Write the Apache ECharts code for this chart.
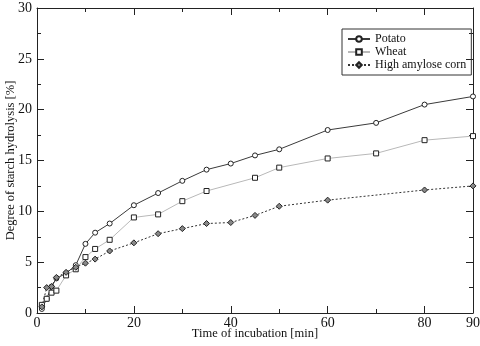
<!DOCTYPE html>
<html><head><meta charset="utf-8">
<script src="https://cdn.jsdelivr.net/npm/echarts@6/dist/echarts.min.js"></script>
<style>html,body{margin:0;padding:0;background:#fff}#c{width:480px;height:346px}</style>
</head><body><div id="c"></div>
<script>
const times = [1,2,3,4,6,8,10,12,15,20,25,30,35,40,45,50,60,70,80,90];
const potato = [0.4,1.4,2.6,3.4,3.9,4.7,6.8,7.9,8.8,10.6,11.8,13.0,14.1,14.7,15.5,16.1,18.0,18.7,20.5,21.3];
const wheat = [0.8,1.4,2.0,2.2,3.7,4.3,5.5,6.3,7.2,9.4,9.7,11.0,12.0,null,13.3,14.3,15.2,15.7,17.0,17.4];
const corn = [0.6,2.5,2.6,3.5,4.0,4.5,4.9,5.3,6.1,6.9,7.8,8.3,8.8,8.9,9.6,10.5,11.1,null,12.1,12.5];
const seriesNames = ['Potato','Wheat','High amylose corn'];
const xTitle = 'Time of incubation [min]';
const yTitle = 'Degree of starch hydrolysis [%]';

const pair = arr => times.map((t,i)=>[t,arr[i]]);
const font = 'Liberation Serif';
const axisBase = () => ({
  axisLine:{show:true,onZero:false,lineStyle:{color:'#222',width:1}},
  axisTick:{show:true,inside:true,length:7,lineStyle:{color:'#222'}},
  minorTick:{show:true,splitNumber:2,length:4,lineStyle:{color:'#222'}},
  splitLine:{show:false}
});
const chart = echarts.init(document.getElementById('c'));
chart.setOption({
  animation:false,
  textStyle:{fontFamily:font},
  grid:{left:37,right:7,top:8,bottom:33,outerBoundsMode:'none',containLabel:false},
  legend:{
    orient:'vertical',left:342,top:29,padding:[4,5,4,5],itemGap:1,
    itemWidth:22,itemHeight:7,borderColor:'#333',borderWidth:1,
    textStyle:{fontFamily:font,fontSize:12,color:'#111'},
    data:seriesNames
  },
  xAxis:[
    Object.assign(axisBase(),{type:'value',min:0,max:90,interval:20,position:'bottom',
      name:xTitle,nameLocation:'middle',nameGap:14,nameMoveOverlap:false,
      nameTextStyle:{fontFamily:font,fontSize:12.5,color:'#111',verticalAlign:'top'},
      axisLabel:{fontFamily:font,fontSize:14,color:'#111',margin:3}}),
    Object.assign(axisBase(),{type:'value',min:0,max:90,interval:20,position:'top',
      axisLabel:{show:false}})
  ],
  yAxis:[
    Object.assign(axisBase(),{type:'value',min:0,max:30,interval:5,position:'left',
      name:yTitle,nameLocation:'middle',nameGap:20,nameMoveOverlap:false,
      nameTextStyle:{fontFamily:font,fontSize:12.5,color:'#111'},
      axisLabel:{fontFamily:font,fontSize:14,color:'#111',margin:5}}),
    Object.assign(axisBase(),{type:'value',min:0,max:30,interval:5,position:'right',
      axisLabel:{show:false}})
  ],
  series:[
    {name:seriesNames[0],type:'line',data:pair(potato),symbol:'circle',symbolSize:5,
      lineStyle:{color:'#3a3a3a',width:1},itemStyle:{color:'#fff',borderColor:'#222',borderWidth:1},
      connectNulls:true},
    {name:seriesNames[1],type:'line',data:pair(wheat),symbol:'rect',symbolSize:5,
      lineStyle:{color:'#b8b8b8',width:1},itemStyle:{color:'#fff',borderColor:'#222',borderWidth:1},
      connectNulls:true},
    {name:seriesNames[2],type:'line',data:pair(corn),symbol:'diamond',symbolSize:6,
      lineStyle:{color:'#333',width:1,type:[2,2]},itemStyle:{color:'#888',borderColor:'#222',borderWidth:1},
      connectNulls:true}
  ]
});
</script></body></html>
